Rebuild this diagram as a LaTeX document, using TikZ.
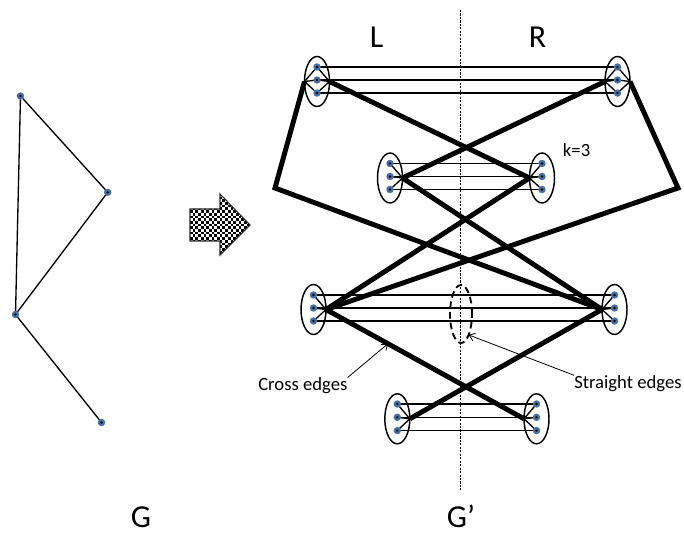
\documentclass[tikz,border=0pt]{standalone}
\usepackage{fontspec}
\setmainfont{Carlito}
\usetikzlibrary{shapes.geometric,arrows.meta,calc}
\definecolor{dotblue}{RGB}{70,112,165}
\pgfdeclarelayer{bg}
\pgfsetlayers{bg,main}
\tikzset{
  gad/.style={ellipse, draw, line width=1.1pt, minimum width=18.75pt, minimum height=37.5pt, inner sep=0pt, outer sep=0pt},
  vdot/.style={circle, fill=dotblue, minimum size=5.6pt, inner sep=0pt, outer sep=0pt,
    path picture={\fill[black] (path picture bounding box.center) circle (0.95pt);}},
  gline/.style={line width=1pt},
  xline/.style={line width=3.7pt},
  lbl/.style={font=\fontsize{14}{16}\selectfont, inner sep=0pt, anchor=base west},
  big/.style={font=\fontsize{24}{28}\selectfont, inner sep=0pt, anchor=base},
  pointer/.style={line width=0.6pt, -{Straight Barb[length=4pt,width=6pt]}},
  selring/.style={ellipse, draw, line width=1.4pt, dash pattern=on 5pt off 3pt, minimum width=16.5pt, minimum height=43.5pt, inner sep=0pt, outer sep=0pt},
  sep/.style={line width=0.6pt, dash pattern=on 1.6pt off 1pt},
  arrowedge/.style={draw=black!85, line width=0.8pt}
}
\begin{document}
\begin{tikzpicture}[x=0.75pt, y=-0.75pt]
\useasboundingbox (0,0) rectangle (684,534);

% separator line
\coordinate (septop) at (460.5,10);
\coordinate (sepbot) at (460.5,490);
\draw[sep] (septop) -- (sepbot);

% gadget ellipses
\node[gad] (L1) at (317,81.5) {};
\node[gad] (R1) at (617.5,81.5) {};
\node[gad] (L2) at (390,178) {};
\node[gad] (R2) at (542,178) {};
\node[gad] (L3) at (313.5,309.5) {};
\node[gad] (R3) at (614.5,309.5) {};
\node[gad] (L4) at (397.3,418.8) {};
\node[gad] (R4) at (536.5,418.8) {};

% copies of vertices
\foreach \n/\x/\y in {
  L1a/317/67, L1b/317/80, L1c/317/93,
  R1a/617.5/67, R1b/617.5/80, R1c/617.5/93,
  L2a/390/163.5, L2b/390/176.5, L2c/390/189.5,
  R2a/542/163.5, R2b/542/176.5, R2c/542/189.5,
  L3a/313.5/295, L3b/313.5/308, L3c/313.5/321,
  R3a/614.5/295, R3b/614.5/308, R3c/614.5/321,
  L4a/397.3/404, L4b/397.3/417.3, L4c/397.3/430.6,
  R4a/536.5/404, R4b/536.5/417.3, R4c/536.5/430.6}
  \node[vdot] (\n) at (\x,\y) {};

% graph G vertices
\node[vdot] (g1) at (20.5,96) {};
\node[vdot] (g2) at (107.7,192.3) {};
\node[vdot] (g3) at (15.5,314.5) {};
\node[vdot] (g4) at (101.5,422.5) {};

% bends
\coordinate (bendL) at (275,188);
\coordinate (bendR) at (678,188);

% dashed selection ring
\node[selring] (sel) at (461,314) {};

% labels
\node[big] (Ltxt) at (376.5,47.7) {L};
\node[big] (Rtxt) at (537.5,47.7) {R};
\node[big] (Gtxt) at (141,527) {G};
\node[big] (Gptxt) at (461,527) {G’};
\node[lbl] (ktxt) at (562.7,156.5) {k=3};
\node[lbl] (crossl) at (258,390.7) {Cross edges};
\node[lbl] (strl) at (574,388.5) {Straight edges};

\coordinate (xtip) at ($(L3.east)!0.313!(R4.west)$);
\draw[pointer] (crossl.north east) -- (xtip);
\draw[pointer] (strl.north west) -- (sel.-70);

% big checkered arrow
\begin{scope}
  \clip (190,209) -- (220,209) -- (220,194) -- (250,225) -- (220,255) -- (220,241) -- (190,241) -- cycle;
  \foreach \j in {0,...,22} {
    \pgfmathsetmacro\off{mod(\j,2)*2.7}
    \foreach \i in {0,...,11}
      \fill (190+\off+5.4*\i, 194+2.7*\j) rectangle +(2.7,2.7);
  }
\end{scope}
\draw[arrowedge] (190,209) -- (220,209) -- (220,194) -- (250,225) -- (220,255) -- (220,241) -- (190,241) -- cycle;

\begin{pgfonlayer}{bg}
  % graph G edges
  \draw[gline] (g1.center) -- (g2.center);
  \draw[gline] (g1.center) -- (g3.center);
  \draw[gline] (g2.center) -- (g3.center);
  \draw[gline] (g3.center) -- (g4.center);
  % straight edges
  \foreach \k in {1,2,3,4}
    \foreach \s in {a,b,c}
      \draw[gline] (L\k\s.center) -- (R\k\s.center);
  % fans to hubs
  \foreach \k in {1,2,3,4}
    \foreach \s in {a,b,c} {
      \draw[gline] (L\k\s.center) -- (L\k.east);
      \draw[gline] (R\k\s.center) -- (R\k.west);
    }
  \foreach \s in {a,b,c} {
    \draw[gline] (L1\s.center) -- (L1.west);
    \draw[gline] (R1\s.center) -- (R1.east);
  }
  % cross edges
  \draw[xline] (L1.west) -- (bendL) -- (R3.west);
  \draw[xline] (R1.east) -- (bendR) -- (L3.east);
  \draw[xline] (L1.east) -- (R2.west);
  \draw[xline] (R1.west) -- (L2.east);
  \draw[xline] (L2.east) -- (R3.west);
  \draw[xline] (R2.west) -- (L3.east);
  \draw[xline] (L3.east) -- (R4.west);
  \draw[xline] (R3.west) -- (L4.east);
\end{pgfonlayer}
\end{tikzpicture}
\end{document}
